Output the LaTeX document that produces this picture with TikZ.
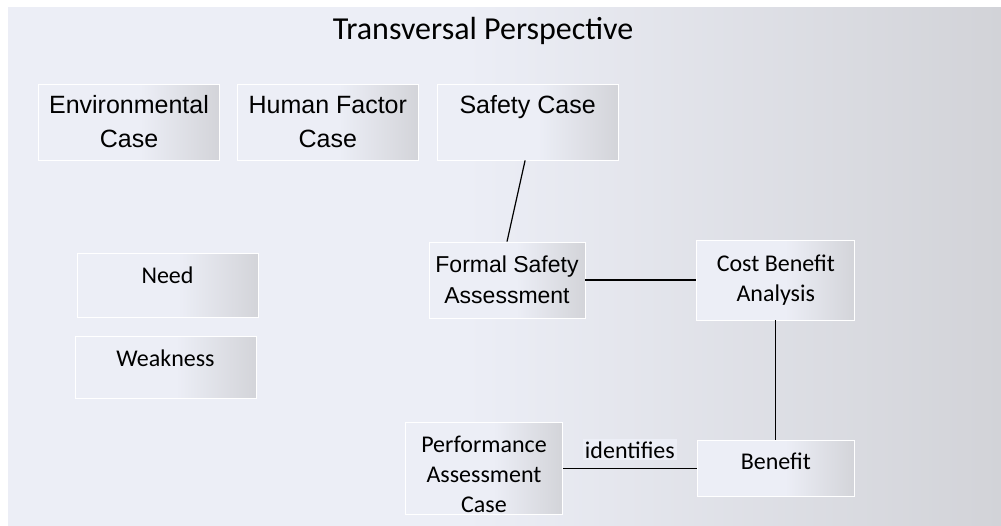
\documentclass[tikz,border=0pt]{standalone}
\usepackage{fontspec}
\setmainfont{Carlito}
\newfontfamily\arialfont{Liberation Sans}
\usetikzlibrary{positioning}
\definecolor{bglight}{HTML}{ECEEF6}
\definecolor{bgdark}{HTML}{D2D3D8}
\definecolor{boxdark}{HTML}{D3D4D9}
\pgfdeclarehorizontalshading{panelshade}{100bp}{color(0bp)=(bglight); color(48bp)=(bglight); color(75bp)=(bgdark); color(100bp)=(bgdark)}
\pgfdeclarehorizontalshading{boxshade}{100bp}{color(0bp)=(bglight); color(53bp)=(bglight); color(75bp)=(boxdark); color(100bp)=(boxdark)}
\tikzset{
    block/.style={rectangle, draw=white, line width=0.8pt, shade, shading=boxshade, inner sep=0pt, align=center, font=\fontsize{24}{30}\selectfont},
    caseblock/.style={block, minimum width=181pt, minimum height=76pt, font=\arialfont\fontsize{25}{34}\selectfont},
    line/.style={line width=1.2pt},
}
\begin{document}
\begin{tikzpicture}
        [x=1pt, y=-1pt, node distance=17pt]

        \useasboundingbox (0,0) rectangle (1001,525);
        \shade[shading=panelshade] (8,7) rectangle (1001,525);

        \node[font=\fontsize{32}{36}\selectfont] (title) at (483,31) {Transversal Perspective};

        \node[caseblock] (environmental) at (129,122) {Environmental\\Case};
        \node[caseblock, right=of environmental] (humanfactor) {Human Factor\\Case};
        \node[caseblock, right=18pt of humanfactor] (safetycase) {Safety Case\\\phantom{Case}};

        \node[block, minimum width=181pt, minimum height=64pt, text depth=20pt] (need) at (167.5,285) {Need};
        \node[block, minimum width=181pt, minimum height=62pt, text depth=20pt, below=19pt of need, xshift=-2pt] (weakness) {Weakness};

        \node[block, minimum width=156pt, minimum height=76pt, font=\arialfont\fontsize{23}{31}\selectfont] (fsa) at (507,280) {Formal Safety\\Assessment};
        \node[block, minimum width=158pt, minimum height=80pt, right=111pt of fsa] (cba) {Cost Benefit\\Analysis};
        \node[block, minimum width=157pt, minimum height=56pt, text depth=16pt, below=120pt of cba] (benefit) {Benefit};
        \node[block, minimum width=157pt, minimum height=92pt, text height=87pt, left=134pt of benefit] (pac) {Performance\\Assessment\\Case};

        \draw[line] ([xshift=-2.5pt]safetycase.south) -- (fsa.north);
        \draw[line] (fsa) -- (cba);
        \draw[line] (cba) -- (benefit);
        \draw[line] (pac) -- node[above=8pt, fill=bglight, inner sep=2pt, font=\fontsize{24}{30}\selectfont] (identifies) {identifies} (benefit);

    \end{tikzpicture}
\end{document}
